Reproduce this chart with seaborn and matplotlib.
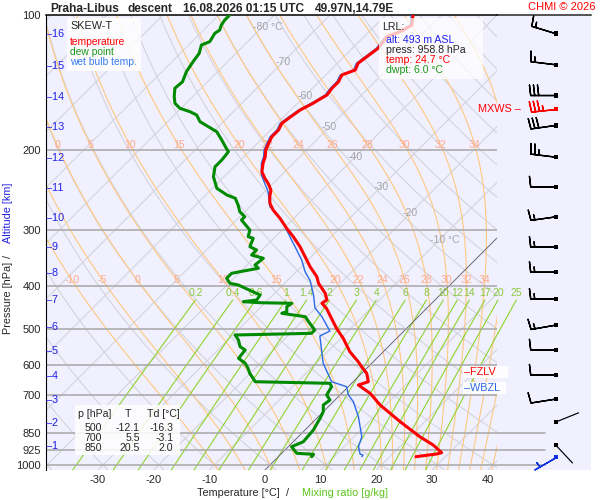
import numpy as np
import pandas as pd
import matplotlib
matplotlib.use("Agg")
import matplotlib.pyplot as plt
import matplotlib.transforms as mtransforms
from matplotlib.patches import Rectangle
from matplotlib.ticker import NullLocator, NullFormatter
import seaborn as sns

# ---------------- data ----------------
temp_p = [100.0, 105.3, 108.9, 111.7, 118.6, 123.8, 128.0, 132.5, 135.9, 140.7,
          145.5, 150.6, 157.1, 162.6, 169.7, 174.1, 180.1, 186.4, 192.8, 199.6,
          206.5, 213.6, 223.0, 230.6, 236.6, 244.9, 253.4, 262.1, 271.3, 283.0,
          297.9, 311.0, 327.3, 344.5, 362.6, 381.6, 394.8, 415.5, 430.0, 437.3,
          448.6, 472.2, 497.0, 523.1, 560.3, 589.7, 605.0, 625.7, 653.2, 664.3,
          693.1, 735.9, 801.6, 865.5, 903.1, 939.4, 945.7, 958.8]
temp_t = [-55.1, -53.5, -54.4, -55.9, -55.4, -55.9, -56.3, -55.6, -57.1, -56.5,
          -56.5, -56.2, -57.2, -58.3, -58.9, -59.2, -58.6, -58.6, -58.0, -57.3,
          -56.2, -55.4, -54.1, -52.4, -50.9, -49.2, -48.2, -47.0, -45.2, -42.5,
          -39.5, -36.8, -33.8, -31.1, -28.4, -25.4, -23.9, -20.9, -19.4, -19.7,
          -18.0, -15.3, -12.6, -9.6, -6.0, -2.7, -1.2, 0.9, 2.7, 1.5,
          5.1, 9.0, 15.6, 21.8, 25.7, 28.6, 27.9, 24.7]

dewp_p = [100.0, 102.6, 105.3, 108.0, 109.8, 114.6, 116.6, 121.7, 127.0, 133.7,
          140.7, 145.5, 151.9, 157.1, 161.2, 164.0, 166.8, 172.6, 177.1, 181.7,
          189.6, 197.8, 201.3, 210.0, 217.4, 228.8, 242.8, 251.2, 255.5, 264.4,
          273.6, 280.7, 285.5, 300.5, 311.0, 313.6, 327.3, 332.9, 341.5, 347.3,
          359.4, 365.5, 372.0, 375.1, 384.8, 394.8, 398.2, 419.1, 430.0, 433.7,
          436.0, 437.3, 445.0, 456.5, 460.3, 468.3, 484.4, 501.3, 509.9, 514.3,
          527.7, 546.1, 555.3, 579.4, 594.5, 609.9, 625.7, 641.9, 653.2, 658.6,
          670.1, 699.1, 717.3, 735.9, 761.6, 787.8, 836.3, 888.0, 911.0, 942.3,
          947.1, 958.8]
dewp_t = [-88.0, -88.0, -87.7, -87.1, -87.4, -86.8, -87.7, -86.6, -86.2, -85.6,
          -84.5, -84.7, -83.3, -82.0, -80.2, -77.8, -76.0, -74.2, -71.8, -69.4,
          -67.0, -64.7, -63.7, -63.4, -63.4, -61.9, -59.2, -56.2, -54.1, -52.4,
          -50.9, -49.1, -49.1, -45.8, -44.9, -43.7, -42.8, -41.0, -41.0, -38.3,
          -38.6, -37.4, -40.1, -41.3, -41.3, -39.8, -38.0, -32.3, -32.0, -34.1,
          -30.9, -25.1, -25.4, -24.5, -25.1, -20.3, -18.3, -16.2, -16.2, -29.6,
          -28.1, -26.6, -25.1, -24.8, -22.7, -21.3, -20.1, -18.6, -17.6, -3.9,
          -3.0, -2.4, -0.9, -1.2, 0.0, 0.6, 1.5, 1.8, 0.6, 2.7,
          5.9, 6.0]

wetb_p = [100.0, 105.3, 108.9, 111.7, 118.6, 123.8, 128.0, 132.5, 135.9, 140.7,
          145.5, 150.6, 157.1, 162.6, 169.7, 174.1, 180.1, 186.4, 192.8, 199.6,
          206.5, 213.6, 226.8, 247.0, 266.7, 273.6, 290.4, 311.0, 332.9, 350.4,
          372.0, 390.1, 419.1, 448.0, 468.3, 504.0, 517.0, 555.3, 594.5, 653.2,
          670.1, 699.1, 723.5, 781.3, 865.5, 911.0, 945.7, 950.6, 958.8]
wetb_t = [-55.4, -53.8, -54.7, -56.2, -55.7, -56.2, -56.6, -55.9, -57.4, -56.8,
          -56.8, -56.5, -57.5, -58.6, -59.2, -59.5, -58.9, -58.9, -58.3, -57.6,
          -56.5, -55.7, -53.6, -49.4, -46.4, -44.6, -41.0, -37.4, -33.8, -31.1,
          -28.4, -25.8, -22.7, -20.1, -17.3, -13.3, -14.2, -11.4, -8.7, -3.9,
          -0.3, 1.5, 3.6, 7.2, 11.4, 12.6, 14.2, 14.9, 15.0]

wind_p = [110, 129, 151, 162, 176, 207, 241, 281, 328, 373, 428, 489, 555, 631,
          714, 803, 903, 958.8]
wind_dir = [287, 277, 270, 264, 262, 277, 270, 262, 270, 270, 270, 260, 270, 270,
            261, 68, 137, 240]
wind_kt = [15, 15, 30, 35, 30, 25, 10, 15, 15, 15, 15, 15, 10, 10, 10, 3, 3, 5]
mxws_p = 162

alt_km = [1, 2, 3, 4, 5, 6, 7, 8, 9, 10, 11, 12, 13, 14, 15, 16]
alt_p = [906.3, 805.7, 717.3, 634.4, 557.4, 493.0, 430.0, 375.1, 327.3, 283.0,
         242.8, 208.2, 177.1, 151.9, 129.8, 110.4]

pressure_ticks = [100, 200, 300, 400, 500, 600, 700, 850, 925, 1000]
temp_ticks = [-30, -20, -10, 0, 10, 20, 30, 40]
isotherm_labels = [-80, -70, -60, -50, -40, -30, -20, -10]
theta_w_lines = [-10, -5, 0, 5, 10, 15, 20, 22, 24, 26, 28, 30, 32, 34, 36, 38, 40]
theta_w_upper_labels = [0, 5, 10, 15, 20, 22, 24, 26, 28, 30, 32, 34]
theta_w_lower_labels = [-10, -5, 0, 5, 10, 15, 20, 22, 24, 26, 28, 30, 32, 34]
mixing_ratios = [0.2, 0.4, 0.6, 1, 1.4, 2, 3, 4, 6, 8, 10, 12, 14, 17, 20, 25]

table_p = [500, 700, 850]
table_t = [-12.1, 5.5, 20.5]
table_td = [-16.3, -3.1, 2.0]

lrl_alt = 493
lrl_press = 958.8
lrl_temp = 24.7
lrl_dwpt = 6.0
fzlv_p = 621
wbzl_p = 674

# ---------------- styling ----------------
sns.set_style("white")
plt.rcParams['font.family'] = ['Liberation Sans', 'DejaVu Sans']
plt.rcParams['axes.unicode_minus'] = False

W, H = 600, 500
FS = 7.6
BG = '#f0f0ff'
RED = '#ff0000'
GREEN = '#008a00'
BLUE = '#2a6ae8'
ALTBLUE = '#2222e6'
ORANGE = '#ffc880'
GRAYL = '#d4d4dc'
MRCOL = '#8ed42c'


def fx(x):
    return x / W


def fy(y):
    return 1 - y / H


def px2p(y):
    return 100.0 * np.exp((y - 15) / 195.4)


P_TOP = 100.0
P_BOT = px2p(470)
T_LEFT = (46 - 265) / 5.571
T_RIGHT = (497 - 265) / 5.571

fig = plt.figure(figsize=(W / 100, H / 100), dpi=100)
fig.patch.set_facecolor('white')

ax = fig.add_axes([fx(46), fy(470), fx(497) - fx(46), fy(15) - fy(470)])
ax.set_facecolor(BG)
ax.set_yscale('log')
ax.set_xlim(T_LEFT, T_RIGHT)
ax.set_ylim(P_BOT, P_TOP)
ax.set_zorder(2)

y0 = fy(470) * H
skew = ax.transData + mtransforms.Affine2D().translate(0, -y0).skew_deg(45, 0).translate(0, y0)

# ---------------- background lines ----------------
pp = np.geomspace(P_BOT + 5, P_TOP, 200)
for t in range(-140, 50, 10):
    ax.plot([t, t], [P_BOT + 5, P_TOP], transform=skew,
            color='#6a6a76' if t == 0 else GRAYL, lw=0.7 if t == 0 else 0.8,
            zorder=1.5 if t == 0 else 1)
for t0 in range(-40, 200, 10):
    th = t0 + 273.15
    ax.plot(th * (pp / 1000.0) ** 0.2857 - 273.15, pp, transform=skew,
            color=GRAYL, lw=0.8, zorder=1)


def sat_vp(tc):
    return 6.112 * np.exp(17.67 * tc / (tc + 243.5))


def moist_lapse(tk, p):
    es = sat_vp(tk - 273.15)
    r = 0.622 * es / (p - es)
    num = (287.04 * tk + 2.501e6 * r) / p
    den = 1005.7 + (2.501e6 ** 2 * r * 0.622) / (287.04 * tk * tk)
    return num / den


def integrate(p_arr, t_start):
    out = np.empty((len(p_arr), len(t_start)))
    out[0] = t_start
    for i in range(1, len(p_arr)):
        p0 = p_arr[i - 1]
        h = p_arr[i] - p0
        t = out[i - 1]
        k1 = moist_lapse(t, p0)
        k2 = moist_lapse(t + h / 2 * k1, p0 + h / 2)
        k3 = moist_lapse(t + h / 2 * k2, p0 + h / 2)
        k4 = moist_lapse(t + h * k3, p0 + h)
        out[i] = t + h / 6 * (k1 + 2 * k2 + 2 * k3 + k4)
    return out


thw = np.array(theta_w_lines, float) + 273.15
p_up = np.arange(1000.0, 99.0, -1.0)
p_dn = np.arange(1000.0, 1032.0, 1.0)
t_up = integrate(p_up, thw)
t_dn = integrate(p_dn, thw)
p_moist = np.concatenate([p_dn[::-1], p_up[1:]])
t_moist = np.concatenate([t_dn[::-1], t_up[1:]]) - 273.15
for j, v in enumerate(theta_w_lines):
    ax.plot(t_moist[:, j], p_moist, transform=skew, color=ORANGE, lw=0.8, zorder=1.2)

for row_y, labels in ((145, theta_w_upper_labels), (280, theta_w_lower_labels)):
    pl = px2p(row_y)
    for v in labels:
        j = theta_w_lines.index(v)
        tl = np.interp(pl, p_moist[::-1], t_moist[::-1, j])
        ax.text(tl, pl, f'{v}', transform=skew, ha='center', va='center',
                color='#ffa98a', fontsize=FS, zorder=3)

pm = np.geomspace(P_BOT, 430, 60)
for w in mixing_ratios:
    e = w / 1000.0 * pm / (0.622 + w / 1000.0)
    lg = np.log(e / 6.112)
    td = 243.5 * lg / (17.67 - lg)
    ax.plot(td, pm, transform=skew, color=MRCOL, lw=0.8, zorder=1.3, clip_on=False)
    ax.annotate(f'{w:g}', (td[-1], 430), xycoords=skew, xytext=(0, 1.5),
                textcoords='offset points', ha='center', va='bottom',
                color='#8cc840', fontsize=FS, zorder=3, annotation_clip=False)

iso_label_y = [27, 62, 96, 127, 157, 187, 213, 240]
for t, yy in zip(isotherm_labels, iso_label_y):
    if t in (-80, -10):
        ax.annotate(f'{t} °C', (t, px2p(yy)), xycoords=skew, xytext=(-6.5, 0),
                    textcoords='offset points', ha='left', va='center',
                    color='#a4a4a8', fontsize=FS, zorder=3)
    else:
        ax.text(t, px2p(yy), f'{t}', transform=skew, ha='center', va='center',
                color='#a4a4a8', fontsize=FS, zorder=3)

for p in pressure_ticks[1:]:
    ax.axhline(p, color='#a8a8a8', lw=1.1, zorder=2)

# ---------------- profiles ----------------
df_w = pd.DataFrame({'T': wetb_t, 'p': wetb_p})
df_d = pd.DataFrame({'T': dewp_t, 'p': dewp_p})
df_t = pd.DataFrame({'T': temp_t, 'p': temp_p})
sns.lineplot(data=df_w, x='T', y='p', sort=False, estimator=None, color=BLUE,
             lw=1.0, ax=ax, transform=skew, zorder=4)
sns.lineplot(data=df_d, x='T', y='p', sort=False, estimator=None, color=GREEN,
             lw=2.2, ax=ax, transform=skew, zorder=5)
sns.lineplot(data=df_t, x='T', y='p', sort=False, estimator=None, color=RED,
             lw=2.2, ax=ax, transform=skew, zorder=6)

ax.set_xlim(T_LEFT, T_RIGHT)
ax.set_ylim(P_BOT, P_TOP)
ax.set_xlabel('')
ax.set_ylabel('')
ax.set_yticks(pressure_ticks)
ax.set_yticklabels([str(p) for p in pressure_ticks])
ax.yaxis.set_minor_locator(NullLocator())
ax.yaxis.set_minor_formatter(NullFormatter())
ax.set_xticks(temp_ticks)
ax.set_xticklabels([str(t) for t in temp_ticks])
ax.tick_params(axis='both', length=0, labelsize=FS + 0.4, pad=3.6)
for side in ('right', 'bottom'):
    ax.spines[side].set_visible(False)
ax.spines['left'].set_color('black')
ax.spines['left'].set_linewidth(0.8)
ax.spines['top'].set_color('black')
ax.spines['top'].set_linewidth(1.1)

# ---------------- wind barbs ----------------
ax2 = fig.add_axes([fx(497), fy(470), fx(591) - fx(497), fy(15) - fy(470)])
ax2.set_facecolor(BG)
ax2.set_yscale('log')
ax2.set_ylim(P_BOT, P_TOP)
ax2.set_xlim(0, 1)
ax2.set_xticks([])
ax2.set_yticks([])
ax2.yaxis.set_minor_locator(NullLocator())
for side in ('right', 'bottom', 'left'):
    ax2.spines[side].set_visible(False)
ax2.spines['top'].set_linewidth(1.1)
for p in (850, 925, 1000):
    ax2.plot([0, 0.51], [p, p], color='#a8a8a8', lw=1.1, zorder=1)

bx = (555.7 - 497) / 94.0
wp = np.array(wind_p, float)
wd = np.deg2rad(np.array(wind_dir, float))
ws = np.array(wind_kt, float)
u = -ws * np.sin(wd)
v = -ws * np.cos(wd)
is_sfc = np.zeros(len(wp), bool)
is_sfc[-1] = True
is_mx = np.isclose(wp, mxws_p)
weak = (ws < 5) & ~is_sfc
normal = ~is_sfc & ~is_mx & ~weak
bkw = dict(length=6.0, linewidth=1.0, sizes=dict(spacing=0.16, height=0.42, width=0.1),
           zorder=4, clip_on=False, flip_barb=False)
ax2.barbs(np.full(normal.sum(), bx), wp[normal], u[normal], v[normal], color='black', **bkw)
ax2.barbs(np.full(is_mx.sum(), bx), wp[is_mx], u[is_mx], v[is_mx], color=RED, **bkw)
ax2.barbs(np.full(is_sfc.sum(), bx), wp[is_sfc], u[is_sfc], v[is_sfc], color='#1030e0', **bkw)
ax2.quiver(np.full(weak.sum(), bx), wp[weak], np.sin(wd[weak]), np.cos(wd[weak]),
           angles='uv', pivot='tail', scale_units='inches', scale=4.0, units='dots',
           width=1.2, headwidth=0, headlength=0, headaxislength=0, color='black', zorder=4)
kind = np.where(is_sfc, 'sfc', np.where(is_mx, 'mx', 'n'))
df_dots = pd.DataFrame({'x': np.full(len(wp), bx), 'p': wp, 'kind': kind})
sns.scatterplot(data=df_dots, x='x', y='p', hue='kind', marker='s', s=10, linewidth=0,
                palette={'n': 'black', 'mx': RED, 'sfc': '#1030e0'}, legend=False,
                ax=ax2, zorder=5)
ax2.set_xlim(0, 1)
ax2.set_ylim(P_BOT, P_TOP)
ax2.set_xlabel('')
ax2.set_ylabel('')

# ---------------- texts ----------------
def ftext(x, y, s, **kw):
    kw.setdefault('fontsize', FS)
    kw.setdefault('zorder', 11)
    return fig.text(fx(x), fy(y), s, **kw)


def fbox(x0, y0_, x1, y1, alpha=0.85):
    fig.add_artist(Rectangle((fx(x0), fy(y1)), fx(x1) - fx(x0), fy(y0_) - fy(y1),
                             transform=fig.transFigure, facecolor='white', alpha=alpha,
                             edgecolor='none', zorder=10))


# title
ftext(50, 12, 'Praha-Libus', fontsize=8.6, fontweight='bold', va='baseline')
ftext(128, 12, 'descent', fontsize=8.6, fontweight='bold', va='baseline')
ftext(183, 12, '16.08.2026 01:15 UTC', fontsize=8.6, fontweight='bold', va='baseline')
ftext(315, 12, '49.97N,14.79E', fontsize=8.6, fontweight='bold', va='baseline')
ftext(595, 10, 'CHMI © 2026', color=RED, ha='right', va='baseline', fontsize=8.0)

# axis labels
ftext(238.5, 492.5, 'Temperature [°C]', ha='center', va='center', fontsize=FS + 0.2)
ftext(287, 492.5, '/', ha='center', va='center', fontsize=FS + 0.2)
ftext(302, 492.5, 'Mixing ratio [g/kg]', ha='left', va='center', color='#5cc41c',
      fontsize=FS + 0.2)
ftext(8, 297.5, 'Pressure [hPa]', rotation=90, ha='center', va='center', fontsize=FS + 0.2)
ftext(8, 256, '/', rotation=90, ha='center', va='center', fontsize=FS + 0.2)
ftext(8, 213, 'Altitude [km]', rotation=90, ha='center', va='center', color=ALTBLUE,
      fontsize=FS + 0.2)

# altitude scale
blend = mtransforms.blended_transform_factory(fig.transFigure, ax.transData)
for km, p in zip(alt_km, alt_p):
    fig.text(fx(46.5), p, f'–{km}', transform=blend, color=ALTBLUE, fontsize=FS + 0.2,
             ha='left', va='center', zorder=11)

# legend box
fbox(66.7, 18.3, 140.7, 70.7)
ftext(70, 26, 'SKEW-T', va='center', fontsize=FS + 0.2)
ftext(70, 42.3, 'temperature', va='center', color=RED, fontsize=FS - 0.2)
ftext(70, 51.7, 'dew point', va='center', color='#1a961a', fontsize=FS - 0.2)
ftext(70, 61.7, 'wet bulb temp.', va='center', color='#3a7cf0', fontsize=FS - 0.2)

# LRL box
fbox(379, 18.3, 483, 79, alpha=0.75)
ftext(382, 27, 'LRL:', va='center')
ftext(386, 40, f'alt: {lrl_alt} m ASL', va='center', color='#2020f0')
ftext(386, 50.3, f'press: {lrl_press:.1f} hPa', va='center')
ftext(386, 60.3, f'temp: {lrl_temp:.1f} °C', va='center', color=RED)
ftext(386, 70.3, f'dwpt: {lrl_dwpt:.1f} °C', va='center', color='#1a961a')

# table box
fbox(75, 405, 180, 455)
ftext(78, 414, 'p [hPa]', va='center')
ftext(128, 414, 'T', va='center', ha='center')
ftext(147, 414, 'Td [°C]', va='center')
for yy, p, t, td in zip([428.3, 438.3, 448.3], table_p, table_t, table_td):
    ftext(101.7, yy, f'{p}', ha='right', va='center')
    ftext(140, yy, f'{t:.1f}', ha='right', va='center')
    ftext(173.3, yy, f'{td:.1f}', ha='right', va='center')

# freezing / wet-bulb zero levels
ybox_f = 15 + 195.4 * np.log(fzlv_p / 100.0)
ybox_w = 15 + 195.4 * np.log(wbzl_p / 100.0)
fbox(463, ybox_f - 6, 508, ybox_f + 6, alpha=0.9)
fbox(463, ybox_w - 6, 506, ybox_w + 6, alpha=0.9)
fig.text(fx(464), fzlv_p, '–FZLV', transform=blend, color=RED, fontsize=FS + 0.2,
         ha='left', va='center', zorder=11)
fig.text(fx(464), wbzl_p, '–WBZL', transform=blend, color='#2a6ae8', fontsize=FS + 0.2,
         ha='left', va='center', zorder=11)
fig.text(fx(521), mxws_p, 'MXWS –', transform=blend, color=RED, fontsize=FS + 0.2,
         ha='right', va='center', zorder=11)

fig.savefig('out.png', dpi=100, facecolor='white')
